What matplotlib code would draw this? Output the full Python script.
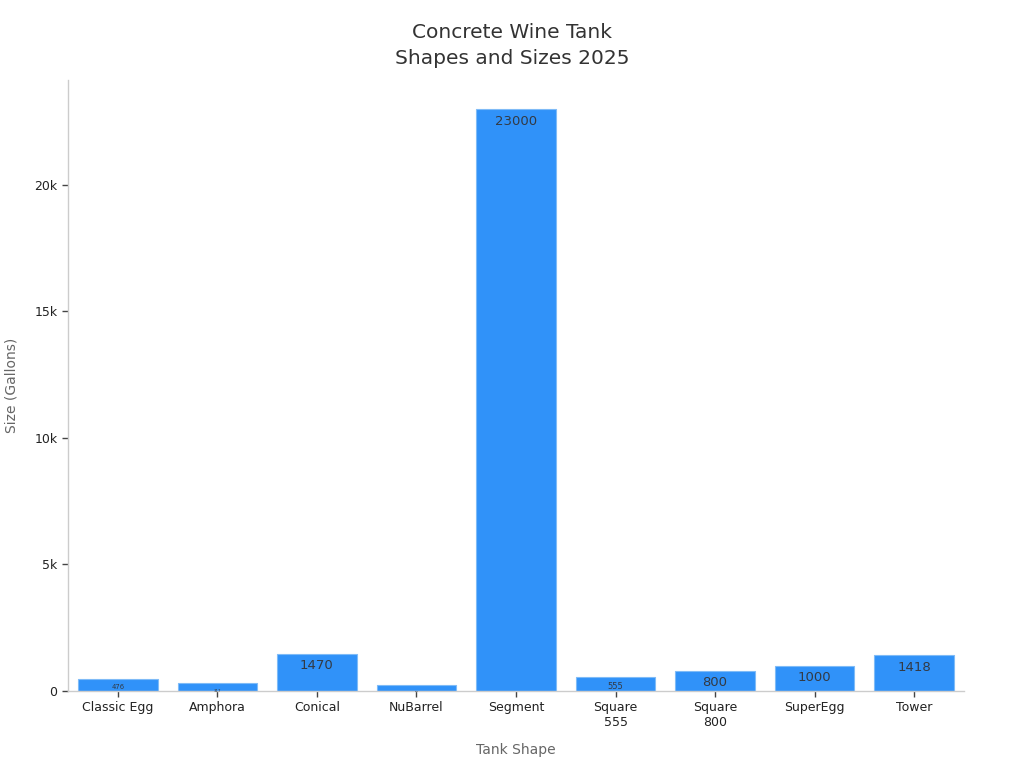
import matplotlib
matplotlib.use("Agg")
import matplotlib.pyplot as plt
from matplotlib.ticker import FuncFormatter

categories = ["Classic Egg", "Amphora", "Conical", "NuBarrel", "Segment",
              "Square\n555", "Square\n800", "SuperEgg", "Tower"]
sizes = [476, 317, 1470, 237, 23000, 555, 800, 1000, 1418]

plt.rcParams['font.family'] = ['DejaVu Sans']
fig = plt.figure(figsize=(10.24, 7.68), dpi=100)
ax = fig.add_axes([0.0664, 0.1003, 0.8750, 0.7956])

x = list(range(len(categories)))
bars = ax.bar(x, sizes, width=0.8, color="#3092F9", edgecolor="#7FBBF7", linewidth=0.8)

ax.set_xlim(-0.5, len(categories) - 0.5)
ax.set_ylim(0, 24150)
ax.set_yticks([0, 5000, 10000, 15000, 20000])
ax.yaxis.set_major_formatter(FuncFormatter(lambda v, p: "0" if v == 0 else f"{int(v/1000)}k"))
ax.set_xticks(x)
ax.set_xticklabels(categories)

for s in ["top", "right"]:
    ax.spines[s].set_visible(False)
for s in ["left", "bottom"]:
    ax.spines[s].set_color("#CCCCCC")
    ax.spines[s].set_linewidth(1)
ax.tick_params(axis="both", colors="#444444", labelsize=9, length=4, width=1, labelcolor="#222222")

ax.set_xlabel("Tank Shape", fontsize=10, color="#666666", labelpad=10)
ax.set_ylabel("Size (Gallons)", fontsize=10, color="#666666")
ax.yaxis.set_label_coords(-0.0547, 0.5)

fig.text(0.5, 1 - 33 / 768, "Concrete Wine Tank", fontsize=14.5, color="#333333",
         ha="center", va="center")
fig.text(0.5, 1 - 59 / 768, "Shapes and Sizes 2025", fontsize=14.5, color="#333333",
         ha="center", va="center")

fig.canvas.draw()
for xi, v in zip(x, sizes):
    y0 = ax.transData.transform((xi, 0))[1]
    y1 = ax.transData.transform((xi, v))[1]
    h = y1 - y0
    fs = min(9.5, (h - 3) * 0.55)
    if fs < 1.5:
        continue
    ax.annotate(f"{v}", xy=(xi, v), xytext=(0, -4), textcoords="offset points",
                ha="center", va="top", fontsize=fs, color="#333a44")

fig.savefig("out.png", dpi=100)
